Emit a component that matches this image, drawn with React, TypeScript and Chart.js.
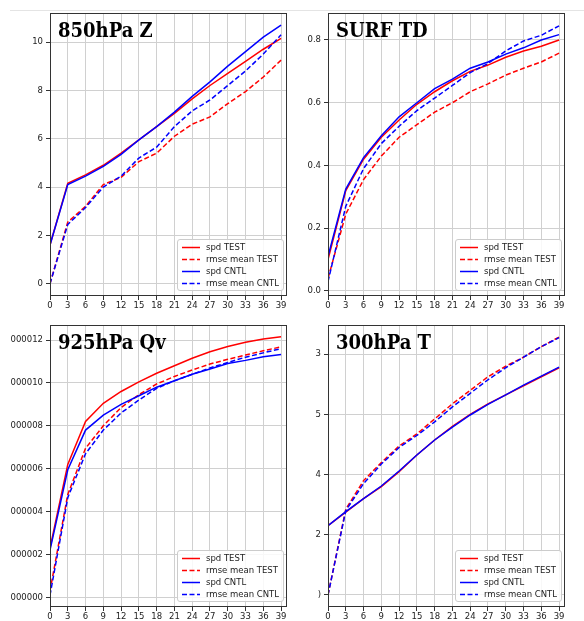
import React, { useEffect, useRef } from "react";
import { Chart, registerables } from "chart.js";

Chart.register(...registerables);
Chart.defaults.font.family = "'DejaVu Sans', sans-serif";

const HOURS = [0, 3, 6, 9, 12, 15, 18, 21, 24, 27, 30, 33, 36, 39];
const X_TICKS = [0, 3, 6, 9, 12, 15, 18, 21, 24, 27, 30, 33, 36, 39];
const SERIES_LABELS = ["spd TEST", "rmse mean TEST", "spd CNTL", "rmse mean CNTL"];

// 850hPa Z
const zSpdTest = [1.6, 4.15, 4.5, 4.9, 5.4, 5.95, 6.5, 7.05, 7.65, 8.2, 8.7, 9.2, 9.7, 10.15];
const zRmseTest = [0, 2.55, 3.2, 4.1, 4.4, 5.05, 5.4, 6.1, 6.6, 6.9, 7.45, 7.95, 8.55, 9.25];
const zSpdCntl = [1.6, 4.1, 4.45, 4.85, 5.35, 5.95, 6.5, 7.1, 7.75, 8.35, 9.0, 9.6, 10.2, 10.7];
const zRmseCntl = [0, 2.45, 3.15, 4.0, 4.45, 5.2, 5.65, 6.5, 7.15, 7.6, 8.2, 8.8, 9.5, 10.3];
const zYTicks = [0, 2, 4, 6, 8, 10];
const zYLabels = ["0", "2", "4", "6", "8", "10"];

// SURF TD
const tdSpdTest = [0.1, 0.32, 0.42, 0.49, 0.545, 0.595, 0.635, 0.67, 0.7, 0.72, 0.745, 0.765, 0.78, 0.8];
const tdRmseTest = [0.04, 0.245, 0.355, 0.43, 0.49, 0.53, 0.57, 0.6, 0.635, 0.66, 0.688, 0.71, 0.73, 0.758];
const tdSpdCntl = [0.11, 0.325, 0.425, 0.495, 0.555, 0.6, 0.645, 0.675, 0.71, 0.73, 0.755, 0.775, 0.8, 0.817];
const tdRmseCntl = [0.03, 0.27, 0.39, 0.47, 0.525, 0.575, 0.615, 0.655, 0.696, 0.725, 0.765, 0.797, 0.815, 0.845];
const tdYTicks = [0, 0.2, 0.4, 0.6, 0.8];
const tdYLabels = ["0.0", "0.2", "0.4", "0.6", "0.8"];

// 925hPa Qv (units of 1e-6)
const qSpdTest = [2.3, 6.2, 8.2, 9.05, 9.6, 10.05, 10.45, 10.8, 11.15, 11.45, 11.7, 11.9, 12.05, 12.15];
const qRmseTest = [0.3, 4.8, 6.95, 8.0, 8.85, 9.45, 9.95, 10.3, 10.6, 10.88, 11.1, 11.3, 11.5, 11.68];
const qSpdCntl = [2.2, 5.95, 7.8, 8.5, 9.0, 9.4, 9.8, 10.1, 10.4, 10.65, 10.9, 11.05, 11.22, 11.32];
const qRmseCntl = [0.1, 4.65, 6.7, 7.8, 8.6, 9.2, 9.75, 10.1, 10.4, 10.7, 10.95, 11.2, 11.4, 11.6];
const qYTicks = [0, 2, 4, 6, 8, 10, 12];
const qYLabels = ["000000", "000002", "000004", "000006", "000008", "000010", "000012"];

// 300hPa T
const tSpdTest = [0.23, 0.275, 0.32, 0.36, 0.41, 0.465, 0.515, 0.56, 0.6, 0.635, 0.665, 0.695, 0.725, 0.755];
const tRmseTest = [0, 0.285, 0.38, 0.44, 0.495, 0.535, 0.585, 0.635, 0.68, 0.725, 0.76, 0.79, 0.825, 0.857];
const tSpdCntl = [0.23, 0.277, 0.32, 0.362, 0.412, 0.465, 0.515, 0.558, 0.598, 0.633, 0.665, 0.697, 0.727, 0.757];
const tRmseCntl = [0, 0.28, 0.37, 0.435, 0.49, 0.53, 0.575, 0.625, 0.67, 0.715, 0.755, 0.79, 0.825, 0.855];
const tYTicks = [0, 0.2, 0.4, 0.6, 0.8];
const tYLabels = [")", "2", "4", "5", "3"];

const COLORS = ["#ff0000", "#ff0000", "#0000ff", "#0000ff"];
const DASHED = [false, true, false, true];

const decorPlugin = {
  id: "decor",
  afterDraw(chart: any, _args: any, opts: any) {
    const { ctx, chartArea: a } = chart;
    ctx.save();
    // frame
    const l = Math.round(a.left) + 0.5;
    const t = Math.round(a.top) + 0.5;
    const r = Math.round(a.right) - 0.5;
    const b = Math.round(a.bottom) - 0.5;
    ctx.strokeStyle = "#333";
    ctx.lineWidth = 1;
    ctx.setLineDash([]);
    ctx.strokeRect(l, t, r - l, b - t);

    // title
    ctx.fillStyle = "#000";
    ctx.font = "bold 20px 'DejaVu Serif Condensed', 'DejaVu Serif', serif";
    try { (ctx as any).fontStretch = "condensed"; } catch (e) {}
    ctx.textBaseline = "alphabetic";
    ctx.textAlign = "left";
    ctx.fillText(opts.title, a.left + 8, a.top + 24);
    try { (ctx as any).fontStretch = "normal"; } catch (e) {}

    // legend
    const bw = 106, bh = 51;
    const bx = a.right - 4 - bw;
    const by = a.bottom - 6 - bh;
    ctx.beginPath();
    if ((ctx as any).roundRect) (ctx as any).roundRect(bx + 0.5, by + 0.5, bw, bh, 2.5);
    else ctx.rect(bx + 0.5, by + 0.5, bw, bh);
    ctx.fillStyle = "rgba(255,255,255,0.85)";
    ctx.fill();
    ctx.strokeStyle = "#cccccc";
    ctx.lineWidth = 1;
    ctx.stroke();
    ctx.font = "8.5px 'DejaVu Sans', sans-serif";
    ctx.textBaseline = "middle";
    chart.data.datasets.forEach((ds: any, i: number) => {
      const y = by + 8.5 + i * 12;
      ctx.beginPath();
      ctx.strokeStyle = ds.borderColor;
      ctx.lineWidth = 1.5;
      ctx.setLineDash(ds.borderDash || []);
      ctx.moveTo(bx + 5, y);
      ctx.lineTo(bx + 23, y);
      ctx.stroke();
      ctx.setLineDash([]);
      ctx.fillStyle = "#222";
      ctx.fillText(ds.label, bx + 29, y + 0.5);
    });
    ctx.restore();
  },
};

type Area = { l: number; t: number; r: number; b: number };
type PanelProps = {
  left: number;
  top: number;
  width: number;
  height: number;
  area: Area;
  title: string;
  series: number[][];
  yMin: number;
  yMax: number;
  yTicks: number[];
  yLabels: string[];
};

function Panel(p: PanelProps) {
  const ref = useRef<HTMLCanvasElement>(null);
  useEffect(() => {
    const tickFont = { family: "'DejaVu Sans', sans-serif", size: 8.5 };
    const chart = new Chart(ref.current as HTMLCanvasElement, {
      type: "line",
      data: {
        datasets: p.series.map((s, i) => ({
          label: SERIES_LABELS[i],
          data: HOURS.map((h, j) => ({ x: h, y: s[j] })),
          borderColor: COLORS[i],
          backgroundColor: COLORS[i],
          borderWidth: 1.5,
          borderDash: DASHED[i] ? [5, 2.5] : [],
          pointRadius: 0,
          tension: 0,
          fill: false,
          order: 4 - i,
        })),
      },
      options: {
        responsive: false,
        maintainAspectRatio: false,
        animation: false,
        events: [],
        layout: { padding: { top: p.area.t, right: p.width - p.area.r, left: 0, bottom: 0 } },
        plugins: {
          legend: { display: false },
          tooltip: { enabled: false },
          decor: { title: p.title },
        } as any,
        scales: {
          x: {
            type: "linear",
            min: 0,
            max: 40,
            afterBuildTicks: (s: any) => {
              s.ticks = X_TICKS.map((v) => ({ value: v }));
            },
            afterFit: (s: any) => {
              s.height = p.height - p.area.b;
            },
            ticks: {
              font: tickFont,
              color: "#222",
              padding: 1,
              maxRotation: 0,
              autoSkip: false,
              callback: (_v: any, i: number) => String(X_TICKS[i]),
            },
            grid: { color: "#d0d0d0", tickColor: "#333", tickLength: 4, lineWidth: 1 },
            border: { display: false },
          },
          y: {
            type: "linear",
            min: p.yMin,
            max: p.yMax,
            afterBuildTicks: (s: any) => {
              s.ticks = p.yTicks.map((v) => ({ value: v }));
            },
            afterFit: (s: any) => {
              s.width = p.area.l;
            },
            ticks: {
              font: tickFont,
              color: "#222",
              padding: 3,
              autoSkip: false,
              callback: (_v: any, i: number) => p.yLabels[i],
            },
            grid: { color: "#d0d0d0", tickColor: "#333", tickLength: 4, lineWidth: 1 },
            border: { display: false },
          },
        },
      } as any,
      plugins: [decorPlugin as any],
    });
    return () => chart.destroy();
  }, []);
  return (
    <canvas
      ref={ref}
      width={p.width}
      height={p.height}
      style={{ position: "absolute", left: p.left, top: p.top, width: p.width, height: p.height }}
    />
  );
}

export default function App() {
  return (
    <div style={{ position: "absolute", left: 0, top: 0, width: 584, height: 621, background: "#fff", overflow: "hidden" }}>
      <div style={{ position: "absolute", left: 10, top: 10, width: 574, height: 1, background: "#e4e4e4" }} />
      <Panel
        left={0} top={0} width={292} height={310}
        area={{ l: 50, t: 13, r: 287, b: 296 }}
        title="850hPa Z"
        series={[zSpdTest, zRmseTest, zSpdCntl, zRmseCntl]}
        yMin={-0.51} yMax={11.2}
        yTicks={zYTicks} yLabels={zYLabels}
      />
      <Panel
        left={292} top={0} width={292} height={310}
        area={{ l: 36, t: 13, r: 273, b: 296 }}
        title="SURF TD"
        series={[tdSpdTest, tdRmseTest, tdSpdCntl, tdRmseCntl]}
        yMin={-0.016} yMax={0.886}
        yTicks={tdYTicks} yLabels={tdYLabels}
      />
      <Panel
        left={0} top={310} width={292} height={311}
        area={{ l: 50, t: 15, r: 287, b: 297 }}
        title="925hPa Qv"
        series={[qSpdTest, qRmseTest, qSpdCntl, qRmseCntl]}
        yMin={-0.45} yMax={12.7}
        yTicks={qYTicks} yLabels={qYLabels}
      />
      <Panel
        left={292} top={310} width={292} height={311}
        area={{ l: 36, t: 15, r: 273, b: 297 }}
        title="300hPa T"
        series={[tSpdTest, tRmseTest, tSpdCntl, tRmseCntl]}
        yMin={-0.04} yMax={0.897}
        yTicks={tYTicks} yLabels={tYLabels}
      />
    </div>
  );
}
